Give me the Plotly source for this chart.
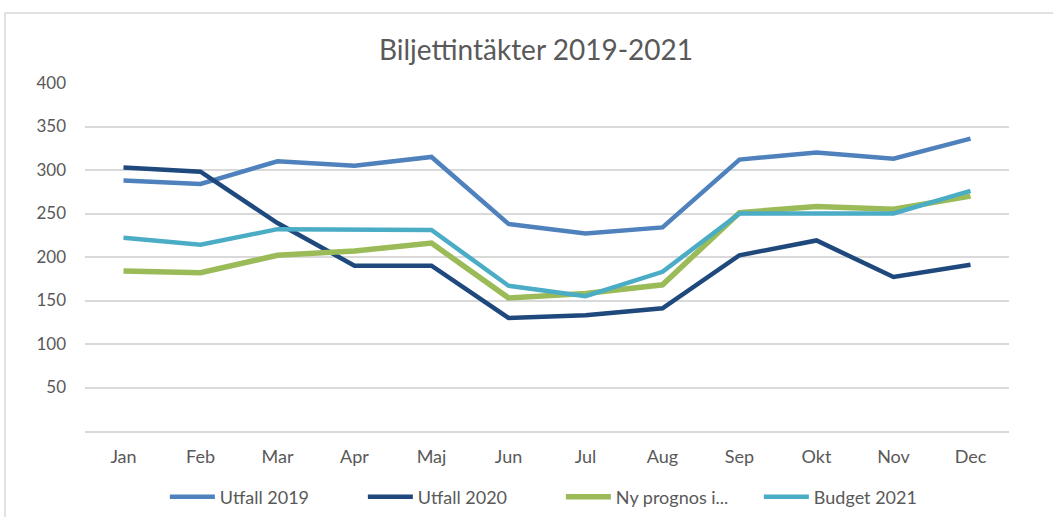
import plotly.graph_objects as go

months = ["Jan", "Feb", "Mar", "Apr", "Maj", "Jun", "Jul", "Aug", "Sep", "Okt", "Nov", "Dec"]
utfall_2019 = [288, 284, 310, 305, 315, 238, 227, 234, 312, 320, 313, 336]
utfall_2020 = [303, 298, 239, 190, 190, 130, 133, 141, 202, 219, 177, 191]
ny_prognos = [184, 182, 202, 207, 216, 153, 158, 168, 251, 258, 255, 270]
budget_2021 = [222, 214, 232, 231, 231, 167, 155, 183, 250, 250, 250, 276]

series = [
    ("Utfall 2019", utfall_2019, "#4F81BD", 4.5),
    ("Utfall 2020", utfall_2020, "#1F497D", 4.5),
    ("Ny prognos i...", ny_prognos, "#9BBB59", 5.5),
    ("Budget 2021", budget_2021, "#4BACC6", 4.5),
]

FONT = "Lato, sans-serif"
GREY = "#595959"

fig = go.Figure()
for name, vals, color, w in series:
    fig.add_trace(go.Scatter(x=months, y=vals, name=name, mode="lines",
                             line=dict(color=color, width=w)))

fig.update_layout(
    width=1053, height=517,
    margin=dict(l=85, r=44, t=83, b=86, autoexpand=False),
    paper_bgcolor="white", plot_bgcolor="white",
    font=dict(family=FONT, color=GREY, size=18),
    title=dict(text="Biljettintäkter 2019-2021", x=0.509, xanchor="center",
               y=0.903, yanchor="middle",
               font=dict(family=FONT, size=28, color=GREY)),
    showlegend=True,
    legend=dict(orientation="h", x=0.515, xanchor="center", y=-0.19, yanchor="middle",
                font=dict(family=FONT, size=18, color=GREY),
                itemwidth=45, entrywidth=138, entrywidthmode="pixels",
                traceorder="normal"),
)
fig.update_xaxes(showgrid=False, showline=True, linecolor="#D9D9D9", linewidth=1.5,
                 range=[-0.5, 11.5],
                 ticks="", ticklabelstandoff=9, tickfont=dict(size=18, color=GREY))
fig.update_yaxes(range=[0, 400], tickvals=[50, 100, 150, 200, 250, 300, 350, 400],
                 showgrid=True, gridcolor="#D9D9D9", gridwidth=1.5, zeroline=False,
                 showline=False, ticks="", ticklabelstandoff=18,
                 tickfont=dict(size=17, color=GREY))

fig.add_shape(type="rect", xref="paper", yref="paper",
              x0=-0.0866, x1=1.08, y0=-0.4, y1=1.201,
              line=dict(color="#D9D9D9", width=1.5), fillcolor="rgba(0,0,0,0)", layer="below")

fig.write_html("out.html", config={"displayModeBar": False},
               post_script="document.body.style.margin='0';document.body.style.overflow='hidden';")
